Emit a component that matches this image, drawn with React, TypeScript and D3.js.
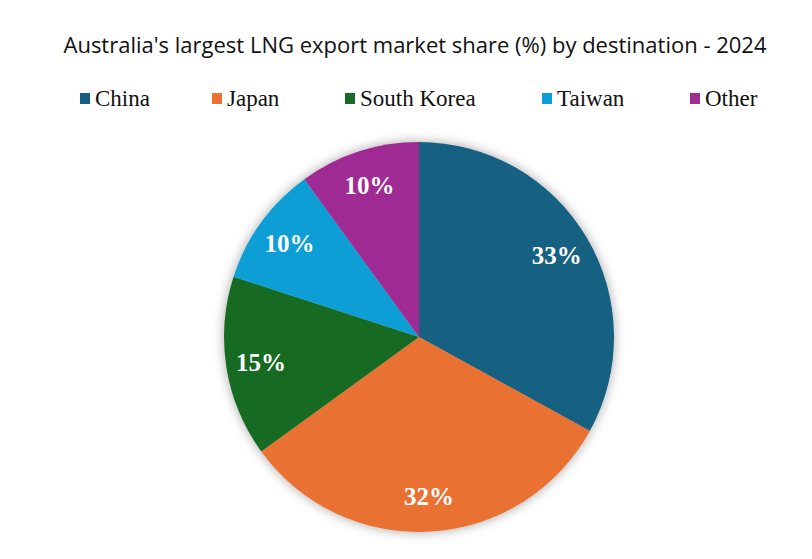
import React from "react";
import { select, pie, arc, PieArcDatum } from "d3";

const categories = ["China", "Japan", "South Korea", "Taiwan", "Other"];
const shares = [33, 32, 15, 10, 10];
const colors = ["#156082", "#E97132", "#196B24", "#0F9ED5", "#A02B93"];
const legendX = [80, 212, 345, 542, 690];

interface Slice {
  name: string;
  value: number;
  color: string;
}

const width = 812;
const height = 559;

export default function App() {
  const svgRef = React.useRef<SVGSVGElement>(null);

  React.useEffect(() => {
    const svg = select(svgRef.current);
    svg.selectAll("*").remove();

    const data: Slice[] = categories.map((name, i) => ({
      name,
      value: shares[i],
      color: colors[i],
    }));

    const cx = 419;
    const cy = 337;
    const radius = 195;

    // soft grey glow behind the pie
    const defs = svg.append("defs");
    const filter = defs
      .append("filter")
      .attr("id", "glow")
      .attr("x", "-20%")
      .attr("y", "-20%")
      .attr("width", "140%")
      .attr("height", "140%");
    filter
      .append("feGaussianBlur")
      .attr("in", "SourceAlpha")
      .attr("stdDeviation", 6);
    filter
      .append("feComponentTransfer")
      .append("feFuncA")
      .attr("type", "linear")
      .attr("slope", 0.35);
    const merge = filter.append("feMerge");
    merge.append("feMergeNode");
    merge.append("feMergeNode").attr("in", "SourceGraphic");

    svg
      .append("text")
      .attr("x", 415)
      .attr("y", 53)
      .attr("text-anchor", "middle")
      .style("font-family", "'Open Sans', sans-serif")
      .style("font-size", "22px")
      .style("font-weight", 500)
      .style("fill", "#111")
      .text("Australia's largest LNG export market share (%) by destination - 2024");

    const legend = svg.append("g");
    data.forEach((d, i) => {
      const g = legend.append("g").attr("transform", `translate(${legendX[i]},0)`);
      g.append("rect")
        .attr("x", 0)
        .attr("y", 93)
        .attr("width", 10)
        .attr("height", 11)
        .attr("fill", d.color);
      g.append("text")
        .attr("x", 15)
        .attr("y", 106)
        .style("font-family", "'Liberation Serif', 'Times New Roman', serif")
        .style("font-size", "23px")
        .style("fill", "#111")
        .text(d.name);
    });

    const pieGen = pie<Slice>()
      .value((d) => d.value)
      .sort(null);
    const arcs = pieGen(data);

    const arcGen = arc<PieArcDatum<Slice>>().innerRadius(0).outerRadius(radius);
    const labelArc = arc<PieArcDatum<Slice>>().innerRadius(160).outerRadius(160);

    const g = svg.append("g").attr("transform", `translate(${cx},${cy})`);
    g.append("g")
      .attr("filter", "url(#glow)")
      .selectAll("path")
      .data(arcs)
      .join("path")
      .attr("d", arcGen)
      .attr("fill", (d) => d.data.color);

    g.selectAll("text.label")
      .data(arcs)
      .join("text")
      .attr("class", "label")
      .attr("transform", (d) => `translate(${labelArc.centroid(d)})`)
      .attr("text-anchor", "middle")
      .attr("dy", "0.35em")
      .style("font-family", "'Liberation Serif', 'Times New Roman', serif")
      .style("font-size", "25px")
      .style("font-weight", "bold")
      .style("fill", "#fff")
      .text((d) => `${d.data.value}%`);

    return () => {
      svg.selectAll("*").remove();
    };
  }, []);

  return (
    <svg
      ref={svgRef}
      width={width}
      height={height}
      style={{ position: "absolute", left: 0, top: 0, background: "#fff" }}
    />
  );
}
